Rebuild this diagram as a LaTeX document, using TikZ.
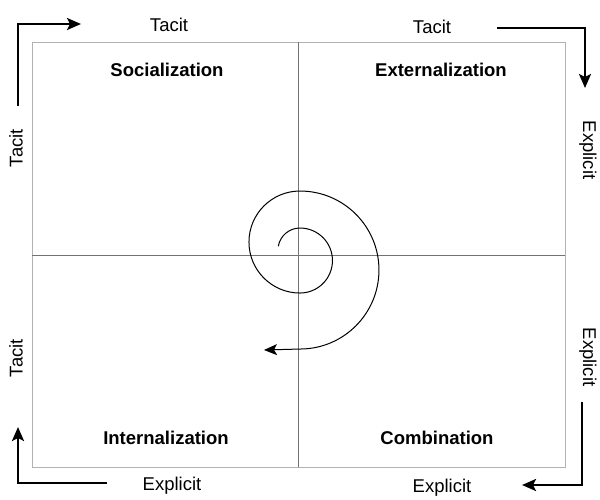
\documentclass[tikz,border=0pt]{standalone}
\usepackage{fontspec}
\setmainfont{Liberation Sans}
\usetikzlibrary{positioning,arrows.meta}

\begin{document}
\begin{tikzpicture}[x=1pt, y=-1pt, font=\fontsize{18.5}{22}\selectfont]
    \tikzset{
        quad/.style={font=\fontsize{18.5}{22}\selectfont\bfseries},
        side/.style={inner sep=0pt},
        turn/.style={line width=2.4pt, -{Stealth[length=14pt,width=12pt,inset=3pt]}},
        spiral/.style={line width=1pt, -{Stealth[length=13pt,width=11pt,inset=3pt]}}
    }
    \useasboundingbox (0,0) rectangle (600,499);

    % frame and cross
    \draw[gray!60, line width=1pt] (32,42) rectangle (565,467);
    \draw[gray!90!black, line width=0.8pt] (298,42) -- (298,467);
    \draw[gray!90!black, line width=0.8pt] (32,255) -- (565,255);

    % quadrants
    \node[quad] (social) at (167,70) {Socialization};
    \node[quad] (extern) at (441,70) {Externalization};
    \node[quad] (intern) at (166,438) {Internalization};
    \node[quad] (combin) at (437,438) {Combination};

    % side labels
    \node[side] (tacitA) at (169,25) {Tacit};
    \node[side] (tacitB) at (432,27) {Tacit};
    \node[side, rotate=-90] (explA) at (588,150) {Explicit};
    \node[side, rotate=-90] (explB) at (588,357) {Explicit};
    \node[side, rotate=90] (tacitC) at (16,148) {Tacit};
    \node[side, rotate=90] (tacitD) at (16,358) {Tacit};
    \node[side] (explC) at (172,486) {Explicit};
    \node[side] (explD) at (442,488) {Explicit};

    % corner arrows
    \coordinate (tlS) at (18,106);
    \coordinate (tlE) at (81,24);
    \coordinate (trS) at (497,28);
    \coordinate (trE) at (585,88);
    \coordinate (brS) at (582,402);
    \coordinate (brE) at (522,485);
    \coordinate (blS) at (107,483);
    \coordinate (blE) at (18,427);
    \draw[turn] (tlS) |- (tlE);
    \draw[turn] (trS) -| (trE);
    \draw[turn] (brS) |- (brE);
    \draw[turn] (blS) -| (blE);

    % spiral
    \coordinate (spS) at (278.3,246.2);
    \coordinate (spE) at (264,350);
    \draw[spiral] (spS) arc[start angle=190, end angle=270, radius=22]
        arc[start angle=270, end angle=450, radius=32.5]
        arc[start angle=90, end angle=270, radius=51]
        arc[start angle=270, end angle=450, radius=79]
        -- (spE);
\end{tikzpicture}
\end{document}
